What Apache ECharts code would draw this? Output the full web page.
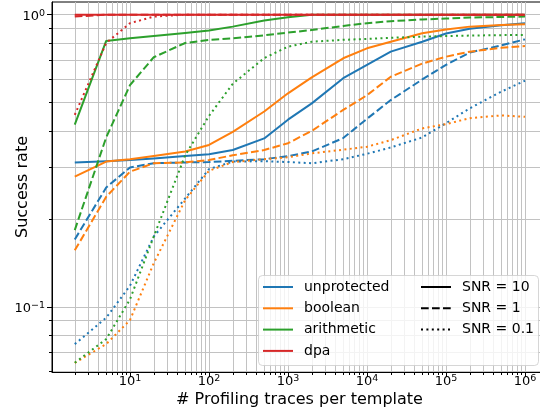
<!DOCTYPE html>
<html><head><meta charset="utf-8">
<script src="https://cdn.jsdelivr.net/npm/echarts@6/dist/echarts.min.js"></script>
<style>html,body{margin:0;padding:0;background:#fff}#c{width:540px;height:411px}</style>
</head><body><div id="c"></div>
<script>
// ---- data ----
const traces = [2,5,10,20,50,100,200,500,1000,2000,5000,10000,20000,50000,100000,200000,500000,1000000];

const unprotected_snr10 = [0.312,0.315,0.318,0.322,0.328,0.333,0.344,0.377,0.437,0.497,0.606,0.673,0.747,0.808,0.862,0.895,0.920,0.934];
const unprotected_snr1  = [0.170,0.256,0.300,0.310,0.312,0.313,0.316,0.320,0.328,0.340,0.378,0.440,0.510,0.600,0.673,0.742,0.785,0.823];
const unprotected_snr01 = [0.0745,0.0917,0.118,0.174,0.235,0.296,0.314,0.315,0.313,0.310,0.320,0.334,0.351,0.380,0.425,0.478,0.545,0.594];

const boolean_snr10 = [0.279,0.314,0.320,0.328,0.340,0.358,0.397,0.466,0.538,0.610,0.709,0.767,0.808,0.864,0.890,0.910,0.922,0.927];
const boolean_snr1  = [0.156,0.238,0.290,0.310,0.312,0.318,0.330,0.344,0.363,0.400,0.472,0.530,0.613,0.680,0.718,0.747,0.770,0.781];
const boolean_snr01 = [0.0643,0.0745,0.090,0.141,0.232,0.292,0.313,0.320,0.325,0.335,0.345,0.353,0.372,0.408,0.422,0.442,0.452,0.447];

const arithmetic_snr10 = [0.420,0.813,0.830,0.845,0.865,0.882,0.910,0.955,0.980,1,1,1,1,1,1,1,1,1];
const arithmetic_snr1  = [0.183,0.380,0.574,0.715,0.800,0.819,0.830,0.850,0.868,0.886,0.915,0.935,0.950,0.963,0.970,0.977,0.982,0.985];
const arithmetic_snr01 = [0.0643,0.0775,0.106,0.174,0.330,0.450,0.580,0.710,0.777,0.808,0.820,0.826,0.833,0.841,0.845,0.848,0.851,0.852];

const dpa_snr10 = [1,1,1,1,1,1,1,1,1,1,1,1,1,1,1,1,1,1];
const dpa_snr1  = [0.985,1,1,1,1,1,1,1,1,1,1,1,1,1,1,1,1,1];
const dpa_snr01 = [0.454,0.800,0.935,0.985,1,1,1,1,1,1,1,1,1,1,1,1,1,1];

const schemes = ['unprotected','boolean','arithmetic','dpa'];
const snrLabels = ['SNR = 10','SNR = 1','SNR = 0.1'];

const xMajorTicks = [10,100,1000,10000,100000,1000000];
const xMinorTicks = [2,3,4,5,6,7,8,9,20,30,40,50,60,70,80,90,200,300,400,500,600,700,800,900,
  2000,3000,4000,5000,6000,7000,8000,9000,20000,30000,40000,50000,60000,70000,80000,90000,
  200000,300000,400000,500000,600000,700000,800000,900000];
const yMajorTicks = [0.1,1];
const yMinorTicks = [0.06,0.07,0.08,0.09,0.2,0.3,0.4,0.5,0.6,0.7,0.8,0.9];

// ---- style ----
const FONT = 'DejaVu Sans';
const colors = {unprotected:'#1f77b4', boolean:'#ff7f0e', arithmetic:'#2ca02c', dpa:'#d62728'};
const dashTypes = ['solid',[7.7,3.3],[2,3.4]];
const LW = 2;
const table = {
  unprotected:[unprotected_snr10,unprotected_snr1,unprotected_snr01],
  boolean:[boolean_snr10,boolean_snr1,boolean_snr01],
  arithmetic:[arithmetic_snr10,arithmetic_snr1,arithmetic_snr01],
  dpa:[dpa_snr10,dpa_snr1,dpa_snr01]
};

function powLabel(v){
  const e = Math.round(Math.log10(v));
  return '{b|10}{s|' + (e < 0 ? '\u2212' + (-e) : e) + '}';
}
const rich = {
  b:{fontSize:13, fontFamily:FONT, color:'#000', lineHeight:16},
  s:{fontSize:9.5, fontFamily:FONT, color:'#000', lineHeight:8, verticalAlign:'top'}
};

const X_MIN = 1.03, X_MAX = 1.9e6, Y_MIN = 0.0598, Y_MAX = 1.105;
const gridLine = {show:true, lineStyle:{color:'#c2c2c2', width:1}};

const series = [];
schemes.forEach(s => {
  table[s].forEach((vals, k) => {
    series.push({
      type:'line',
      name: k === 0 ? s : s + ' ' + snrLabels[k],
      data: traces.map((t,i) => [t, vals[i]]),
      symbol:'none', showSymbol:false,
      color: colors[s],
      lineStyle:{width:LW, color:colors[s], type:dashTypes[k], cap:'butt', join:'round'},
      z: 2,
      animation:false,
      silent:true
    });
  });
});
snrLabels.forEach((lab,k) => {
  series.push({type:'line', name:lab, data:[], symbol:'none', color:'#000',
    lineStyle:{width:LW, color:'#000', type:dashTypes[k]}, animation:false});
});

const legendCommon = {
  orient:'vertical', itemWidth:30, itemHeight:14, itemGap:7.3, selectedMode:false, padding:0,
  itemStyle:{color:'rgba(0,0,0,0)', borderColor:'rgba(0,0,0,0)', borderWidth:0},
  textStyle:{fontSize:14, fontFamily:FONT, color:'#000', padding:[0,0,0,6]},
  z:10
};

const option = {
  animation:false,
  backgroundColor:'#fff',
  grid:{left:52, top:2, width:495, height:370, show:true, borderColor:'#000', borderWidth:1,
        backgroundColor:'transparent', containLabel:false, outerBoundsMode:'none'},
  xAxis:[
    {type:'log', min:X_MIN, max:X_MAX, logBase:10, position:'bottom',
     name:'# Profiling traces per template', nameLocation:'middle', nameGap:20, nameMoveOverlap:false,
     nameTextStyle:{fontSize:16, fontFamily:FONT, color:'#000'},
     axisLine:{show:true, lineStyle:{color:'#000', width:1}},
     axisTick:{show:true, inside:false, length:5, lineStyle:{color:'#000', width:1}, customValues:xMajorTicks},
     axisLabel:{show:true, margin:2, customValues:xMajorTicks, formatter:powLabel, rich:rich},
     splitLine:gridLine, minorTick:{show:false}, minorSplitLine:{show:false}},
    {type:'log', min:X_MIN, max:X_MAX, logBase:10, position:'bottom', gridIndex:0,
     axisLine:{show:false},
     axisTick:{show:true, inside:false, length:3, lineStyle:{color:'#000', width:1}, customValues:xMinorTicks},
     axisLabel:{show:false},
     splitLine:gridLine}
  ],
  yAxis:[
    {type:'log', min:Y_MIN, max:Y_MAX, logBase:10, position:'left',
     name:'Success rate', nameLocation:'middle', nameGap:21, nameMoveOverlap:false,
     nameTextStyle:{fontSize:16, fontFamily:FONT, color:'#000'},
     axisLine:{show:true, lineStyle:{color:'#000', width:1}},
     axisTick:{show:true, inside:false, length:5, lineStyle:{color:'#000', width:1}, customValues:yMajorTicks},
     axisLabel:{show:true, margin:7, padding:[3,0,0,0], customValues:yMajorTicks, formatter:powLabel, rich:rich},
     splitLine:gridLine},
    {type:'log', min:Y_MIN, max:Y_MAX, logBase:10, position:'left', gridIndex:0,
     axisLine:{show:false},
     axisTick:{show:true, inside:false, length:3, lineStyle:{color:'#000', width:1}, customValues:yMinorTicks},
     axisLabel:{show:false},
     splitLine:gridLine}
  ],
  legend:[
    Object.assign({}, legendCommon, {data:schemes, left:262, top:280}),
    Object.assign({}, legendCommon, {data:snrLabels, left:420, top:280})
  ],
  graphic:{elements:[{type:'rect', z:3, silent:true,
    shape:{x:258.5, y:275.5, width:280, height:90, r:4},
    style:{fill:'rgba(255,255,255,0.8)', stroke:'rgba(204,204,204,0.8)', lineWidth:1}}]},
  series: series
};

const chart = echarts.init(document.getElementById('c'), null, {renderer:'canvas'});
chart.setOption(option);
</script></body></html>
